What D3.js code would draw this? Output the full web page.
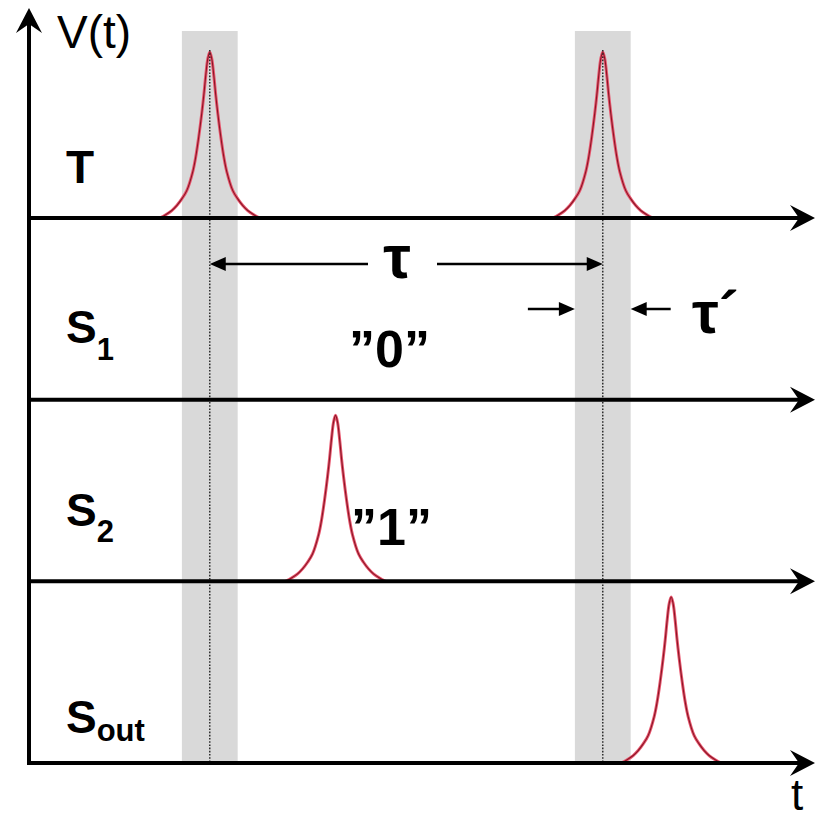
<!DOCTYPE html>
<html>
<head>
<meta charset="utf-8">
<script src="https://cdn.jsdelivr.net/npm/d3@7"></script>
<style>
  html, body { margin: 0; padding: 0; background: #fff; }
  svg { display: block; }
</style>
</head>
<body>
<svg id="chart" width="823" height="820"></svg>
<script>
// ---------------- DATA ----------------
const rows = ["T", "S1", "S2", "Sout"];
const rowMain = ["T", "S", "S", "S"];
const rowSub = ["", "1", "2", "out"];

// pulse centers (time units) and the row each one sits on
const pulseRows = ["T", "T", "S2", "Sout"];
const pulseTimes = [23, 73, 39, 81.7];

// pulse profile (offset in time units, relative height)
const profileOffsets = [-6.36, -5.6, -4.83, -4.2, -3.56, -2.93, -2.16, -1.78, -1.4, -1.02, -0.76, -0.51, -0.25, 0,
                         0.25, 0.51, 0.76, 1.02, 1.4, 1.78, 2.16, 2.93, 3.56, 4.2, 4.83, 5.6, 6.36];
const profileHeights = [0, 0.02, 0.045, 0.075, 0.115, 0.165, 0.28, 0.37, 0.49, 0.63, 0.74, 0.86, 0.96, 1,
                         0.96, 0.86, 0.74, 0.63, 0.49, 0.37, 0.28, 0.165, 0.115, 0.075, 0.045, 0.02, 0];

// detection windows (time units)
const windowCenters = [23, 73];
const windowWidth = 7.1;

const tauLabel = "τ";
const tauPrimeLabel = "τ´";
const bitLabels = ["”0”", "”1”"];
const axisLabelY = "V(t)";
const axisLabelX = "t";

// ---------------- SCALES ----------------
const svg = d3.select("#chart");
const x = d3.scaleLinear().domain([0, 100]).range([29, 815]);
const rowY = d3.scalePoint().domain(rows).range([218, 763]);
const amp = d3.scaleLinear().domain([0, 1]).range([0, 166]);

const axisColor = "#000";
const bandTop = 31;
const bottomY = rowY("Sout");

// ---------------- WINDOWS (gray bands) ----------------
svg.append("g").selectAll("rect").data(windowCenters).join("rect")
  .attr("x", d => x(d - windowWidth / 2))
  .attr("width", d => x(d + windowWidth / 2) - x(d - windowWidth / 2))
  .attr("y", bandTop)
  .attr("height", bottomY - bandTop)
  .attr("fill", "#d9d9d9");

// ---------------- PULSES ----------------
const profile = profileOffsets.map((o, i) => ({ o, h: profileHeights[i] }));
const pulseData = pulseTimes.map((t, i) => ({ t, row: pulseRows[i] }));
const pulseLine = (p) => d3.line()
  .x(d => x(p.t + d.o))
  .y(d => rowY(p.row) - amp(d.h))
  .curve(d3.curveCatmullRom.alpha(0.5))(profile);

const pg = svg.append("g");
pg.selectAll("path.outer").data(pulseData).join("path")
  .attr("class", "outer")
  .attr("d", pulseLine)
  .attr("fill", "none")
  .attr("stroke", "#e8566e")
  .attr("stroke-width", 3);
pg.selectAll("path.inner").data(pulseData).join("path")
  .attr("class", "inner")
  .attr("d", pulseLine)
  .attr("fill", "none")
  .attr("stroke", "#8a1626")
  .attr("stroke-width", 1.1);

// ---------------- DOTTED CENTER LINES ----------------
svg.append("g").selectAll("line").data(windowCenters).join("line")
  .attr("x1", d => x(d)).attr("x2", d => x(d))
  .attr("y1", rowY("T") - amp(1) - 2)
  .attr("y2", bottomY)
  .attr("stroke", "#222")
  .attr("stroke-width", 1.4)
  .attr("stroke-dasharray", "1.6,1.6");

// ---------------- AXES ----------------
const arrowHead = "M0,0 L-25,-13 L-16,0 L-25,13 Z";
const ax = svg.append("g");
// horizontal time axes
rows.forEach(r => {
  ax.append("line")
    .attr("x1", x(0)).attr("x2", x(100) - 12)
    .attr("y1", rowY(r)).attr("y2", rowY(r))
    .attr("stroke", axisColor).attr("stroke-width", 4);
  ax.append("path")
    .attr("d", arrowHead)
    .attr("transform", `translate(${x(100)},${rowY(r)})`)
    .attr("fill", axisColor);
});
// vertical axis
ax.append("line")
  .attr("x1", x(0)).attr("x2", x(0))
  .attr("y1", bottomY + 2).attr("y2", 20)
  .attr("stroke", axisColor).attr("stroke-width", 4);
ax.append("path")
  .attr("d", arrowHead)
  .attr("transform", `translate(${x(0)},8) rotate(-90)`)
  .attr("fill", axisColor);

// ---------------- TEXT ----------------
const font = "Arial, 'Liberation Sans', sans-serif";
svg.append("text").text(axisLabelY)
  .attr("x", 57).attr("y", 48)
  .attr("font-family", font).attr("font-size", 46).attr("fill", "#000");
svg.append("text").text(axisLabelX)
  .attr("x", 797).attr("y", 810).attr("text-anchor", "middle")
  .attr("font-family", font).attr("font-size", 44).attr("fill", "#000");

// row labels
const labelBase = [183, 343, 526, 733];
const subDrop = [0, 17, 16, 8];
rows.forEach((r, i) => {
  const t = svg.append("text")
    .attr("x", 66).attr("y", labelBase[i])
    .attr("font-family", font).attr("font-weight", "bold")
    .attr("font-size", 46).attr("fill", "#000");
  t.append("tspan").text(rowMain[i]);
  if (rowSub[i]) {
    t.append("tspan").text(rowSub[i])
      .attr("font-size", 31)
      .attr("dy", subDrop[i]);
  }
});

// tau arrow between the two window centers
const arrowSmall = "M0,0 L-16,-7 L-16,7 Z";
const tauY = 264;
const tauMid = 400;
const ann = svg.append("g");
ann.append("line")
  .attr("x1", tauMid - 32).attr("x2", x(windowCenters[0]) + 10)
  .attr("y1", tauY).attr("y2", tauY)
  .attr("stroke", "#000").attr("stroke-width", 2.5);
ann.append("path").attr("d", arrowSmall)
  .attr("transform", `translate(${x(windowCenters[0])},${tauY}) rotate(180)`)
  .attr("fill", "#000");
ann.append("line")
  .attr("x1", tauMid + 37).attr("x2", x(windowCenters[1]) - 10)
  .attr("y1", tauY).attr("y2", tauY)
  .attr("stroke", "#000").attr("stroke-width", 2.5);
ann.append("path").attr("d", arrowSmall)
  .attr("transform", `translate(${x(windowCenters[1])},${tauY})`)
  .attr("fill", "#000");
ann.append("text").text(tauLabel)
  .attr("x", tauMid - 3).attr("y", 278).attr("text-anchor", "middle")
  .attr("font-family", font).attr("font-weight", "bold")
  .attr("font-size", 62).attr("fill", "#000");

// tau' arrows at the second window
const tpY = 309;
const wL = x(windowCenters[1] - windowWidth / 2);
const wR = x(windowCenters[1] + windowWidth / 2);
ann.append("line")
  .attr("x1", wL - 47).attr("x2", wL - 10)
  .attr("y1", tpY).attr("y2", tpY)
  .attr("stroke", "#000").attr("stroke-width", 2.5);
ann.append("path").attr("d", arrowSmall)
  .attr("transform", `translate(${wL},${tpY})`)
  .attr("fill", "#000");
ann.append("line")
  .attr("x1", wR + 40).attr("x2", wR + 10)
  .attr("y1", tpY).attr("y2", tpY)
  .attr("stroke", "#000").attr("stroke-width", 2.5);
ann.append("path").attr("d", arrowSmall)
  .attr("transform", `translate(${wR},${tpY}) rotate(180)`)
  .attr("fill", "#000");
ann.append("text").text(tauPrimeLabel)
  .attr("x", 692).attr("y", 333)
  .attr("font-family", font).attr("font-weight", "bold")
  .attr("font-size", 60).attr("fill", "#000");

// bit labels
svg.append("text").text(bitLabels[0])
  .attr("x", 349).attr("y", 367)
  .attr("font-family", font).attr("font-weight", "bold")
  .attr("font-size", 52).attr("fill", "#000");
svg.append("text").text(bitLabels[1])
  .attr("x", 351).attr("y", 545)
  .attr("font-family", font).attr("font-weight", "bold")
  .attr("font-size", 52).attr("fill", "#000");
</script>
</body>
</html>
